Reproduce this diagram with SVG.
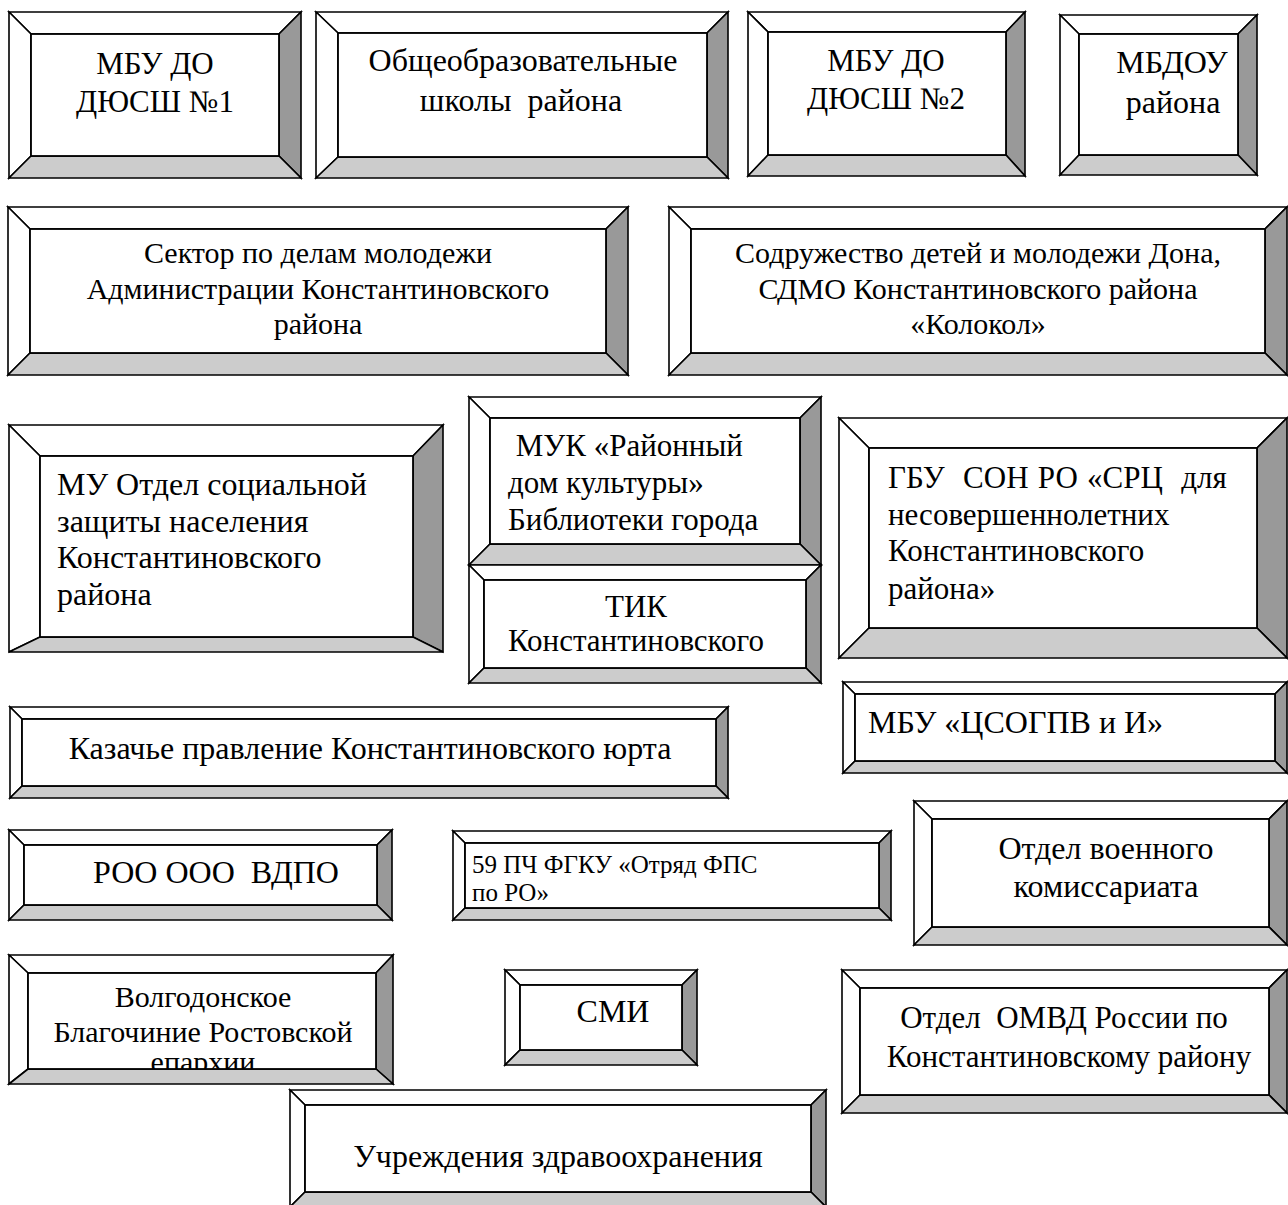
<svg xmlns="http://www.w3.org/2000/svg" width="1288" height="1205" viewBox="0 0 1288 1205">
<style>
.f{stroke:#000;stroke-width:1.6;stroke-linejoin:miter}
.w{fill:#fff}
.r{fill:#999}
.g{fill:#ccc}
.in{fill:#fff;stroke:#000;stroke-width:1.8}
text{font-family:"Liberation Serif","Times New Roman",serif;font-size:30px;fill:#000;white-space:pre}
.c{text-anchor:middle}
.t31{font-size:31px}
.t32{font-size:32px}
.s{font-size:25px}
</style>
<defs>
<clipPath id="clip16"><rect x="28" y="973" width="348" height="96"/></clipPath>
</defs>
<rect width="1288" height="1205" fill="#fff"/>
<g id="connectors"></g>

<g id="n1">
<polygon class="f w" points="9,12 301,12 279,34 31,34"/>
<polygon class="f w" points="9,12 31,34 31,156 9,178"/>
<polygon class="f r" points="301,12 301,178 279,156 279,34"/>
<polygon class="f g" points="9,178 31,156 279,156 301,178"/>
<rect class="in" x="31" y="34" width="248" height="122"/>
<text class="c t31" x="155" y="74">МБУ ДО</text>
<text class="c t31" x="155" y="112">ДЮСШ №1</text>
</g>

<g id="n2">
<polygon class="f w" points="316,12 728,12 707,33 338,33"/>
<polygon class="f w" points="316,12 338,33 338,157 316,178"/>
<polygon class="f r" points="728,12 728,178 707,157 707,33"/>
<polygon class="f g" points="316,178 338,157 707,157 728,178"/>
<rect class="in" x="338" y="33" width="369" height="124"/>
<text class="c t32" x="523" y="71">Общеобразовательные</text>
<text class="c t32" x="521" y="111">школы  района</text>
</g>

<g id="n3">
<polygon class="f w" points="748,12 1025,12 1006,32 768,32"/>
<polygon class="f w" points="748,12 768,32 768,155 748,176"/>
<polygon class="f r" points="1025,12 1025,176 1006,155 1006,32"/>
<polygon class="f g" points="748,176 768,155 1006,155 1025,176"/>
<rect class="in" x="768" y="32" width="238" height="123"/>
<text class="c t31" x="886" y="71">МБУ ДО</text>
<text class="c t31" x="886" y="109">ДЮСШ №2</text>
</g>

<g id="n4">
<polygon class="f w" points="1060,15 1257,15 1238,34 1079,34"/>
<polygon class="f w" points="1060,15 1079,34 1079,155 1060,175"/>
<polygon class="f r" points="1257,15 1257,175 1238,155 1238,34"/>
<polygon class="f g" points="1060,175 1079,155 1238,155 1257,175"/>
<rect class="in" x="1079" y="34" width="159" height="121"/>
<text class="c t32" x="1172" y="73">МБДОУ</text>
<text class="c t32" x="1173" y="113">района</text>
</g>

<g id="n5">
<polygon class="f w" points="8,207 628,207 606,229 30,229"/>
<polygon class="f w" points="8,207 30,229 30,353 8,375"/>
<polygon class="f r" points="628,207 628,375 606,353 606,229"/>
<polygon class="f g" points="8,375 30,353 606,353 628,375"/>
<rect class="in" x="30" y="229" width="576" height="124"/>
<text class="c" x="318" y="263">Сектор по делам молодежи</text>
<text class="c" x="318" y="299">Администрации Константиновского</text>
<text class="c" x="318" y="334">района</text>
</g>

<g id="n6">
<polygon class="f w" points="669,207 1287,207 1265,229 691,229"/>
<polygon class="f w" points="669,207 691,229 691,353 669,375"/>
<polygon class="f r" points="1287,207 1287,375 1265,353 1265,229"/>
<polygon class="f g" points="669,375 691,353 1265,353 1287,375"/>
<rect class="in" x="691" y="229" width="574" height="124"/>
<text class="c" x="978" y="263">Содружество детей и молодежи Дона,</text>
<text class="c" x="978" y="299">СДМО Константиновского района</text>
<text class="c" x="978" y="334">«Колокол»</text>
</g>

<g id="n7">
<polygon class="f w" points="9,425 443,425 413,456 40,456"/>
<polygon class="f w" points="9,425 40,456 40,637 9,652"/>
<polygon class="f r" points="443,425 443,652 413,637 413,456"/>
<polygon class="f g" points="9,652 40,637 413,637 443,652"/>
<rect class="in" x="40" y="456" width="373" height="181"/>
<text class="t32" x="57" y="495">МУ Отдел социальной</text>
<text class="t32" x="57" y="532">защиты населения</text>
<text class="t32" x="57" y="568">Константиновского</text>
<text class="t32" x="57" y="605">района</text>
</g>

<g id="n8">
<polygon class="f w" points="469,397 821,397 800,418 490,418"/>
<polygon class="f w" points="469,397 490,418 490,544 469,565"/>
<polygon class="f r" points="821,397 821,565 800,544 800,418"/>
<polygon class="f g" points="469,565 490,544 800,544 821,565"/>
<rect class="in" x="490" y="418" width="310" height="126"/>
<text class="t31" x="508" y="456"> МУК «Районный</text>
<text class="t31" x="508" y="493">дом культуры»</text>
<text class="t31" x="508" y="530">Библиотеки города</text>
</g>

<g id="n9">
<polygon class="f w" points="469,565 821,565 806,580 484,580"/>
<polygon class="f w" points="469,565 484,580 484,668 469,683"/>
<polygon class="f r" points="821,565 821,683 806,668 806,580"/>
<polygon class="f g" points="469,683 484,668 806,668 821,683"/>
<rect class="in" x="484" y="580" width="322" height="88"/>
<text class="c t31" x="636" y="617">ТИК</text>
<text class="c t31" x="636" y="651">Константиновского</text>
</g>

<g id="n10">
<polygon class="f w" points="839,418 1287,418 1257,448 869,448"/>
<polygon class="f w" points="839,418 869,448 869,628 839,658"/>
<polygon class="f r" points="1287,418 1287,658 1257,628 1257,448"/>
<polygon class="f g" points="839,658 869,628 1257,628 1287,658"/>
<rect class="in" x="869" y="448" width="388" height="180"/>
<text class="t31" x="888" y="488" style="word-spacing:1.5px">ГБУ  СОН РО «СРЦ  для</text>
<text class="t31" x="888" y="525">несовершеннолетних</text>
<text class="t31" x="888" y="561">Константиновского</text>
<text class="t31" x="888" y="599">района»</text>
</g>

<g id="n11">
<polygon class="f w" points="843,682 1287,682 1275,694 855,694"/>
<polygon class="f w" points="843,682 855,694 855,761 843,773"/>
<polygon class="f r" points="1287,682 1287,773 1275,761 1275,694"/>
<polygon class="f g" points="843,773 855,761 1275,761 1287,773"/>
<rect class="in" x="855" y="694" width="420" height="67"/>
<text class="t32" x="868" y="733">МБУ «ЦСОГПВ и И»</text>
</g>

<g id="n12">
<polygon class="f w" points="10,707 728,707 716,719 22,719"/>
<polygon class="f w" points="10,707 22,719 22,786 10,798"/>
<polygon class="f r" points="728,707 728,798 716,786 716,719"/>
<polygon class="f g" points="10,798 22,786 716,786 728,798"/>
<rect class="in" x="22" y="719" width="694" height="67"/>
<text class="c t32" x="370" y="759">Казачье правление Константиновского юрта</text>
</g>

<g id="n13">
<polygon class="f w" points="9,830 392,830 377,845 24,845"/>
<polygon class="f w" points="9,830 24,845 24,905 9,920"/>
<polygon class="f r" points="392,830 392,920 377,905 377,845"/>
<polygon class="f g" points="9,920 24,905 377,905 392,920"/>
<rect class="in" x="24" y="845" width="353" height="60"/>
<text class="c t32" x="216" y="883">РОО ООО  ВДПО</text>
</g>

<g id="n14">
<polygon class="f w" points="453,831 891,831 879,843 465,843"/>
<polygon class="f w" points="453,831 465,843 465,908 453,920"/>
<polygon class="f r" points="891,831 891,920 879,908 879,843"/>
<polygon class="f g" points="453,920 465,908 879,908 891,920"/>
<rect class="in" x="465" y="843" width="414" height="65"/>
<text class="s" x="472" y="873">59 ПЧ ФГКУ «Отряд ФПС</text>
<text class="s" x="472" y="901">по РО»</text>
</g>

<g id="n15">
<polygon class="f w" points="914,801 1287,801 1269,819 932,819"/>
<polygon class="f w" points="914,801 932,819 932,927 914,945"/>
<polygon class="f r" points="1287,801 1287,945 1269,927 1269,819"/>
<polygon class="f g" points="914,945 932,927 1269,927 1287,945"/>
<rect class="in" x="932" y="819" width="337" height="108"/>
<text class="c t32" x="1106" y="859">Отдел военного</text>
<text class="c t32" x="1106" y="897">комиссариата</text>
</g>

<g id="n16">
<polygon class="f w" points="9,955 393,955 376,973 28,973"/>
<polygon class="f w" points="9,955 28,973 28,1069 9,1084"/>
<polygon class="f r" points="393,955 393,1084 376,1069 376,973"/>
<polygon class="f g" points="9,1084 28,1069 376,1069 393,1084"/>
<rect class="in" x="28" y="973" width="348" height="96"/>
<g clip-path="url(#clip16)">
<text class="c" x="203" y="1007">Волгодонское</text>
<text class="c" x="203" y="1042">Благочиние Ростовской</text>
<text class="c" x="203" y="1072">епархии</text>
</g>
</g>

<g id="n17">
<polygon class="f w" points="505,970 697,970 682,985 520,985"/>
<polygon class="f w" points="505,970 520,985 520,1050 505,1065"/>
<polygon class="f r" points="697,970 697,1065 682,1050 682,985"/>
<polygon class="f g" points="505,1065 520,1050 682,1050 697,1065"/>
<rect class="in" x="520" y="985" width="162" height="65"/>
<text class="c t32" x="613" y="1022">СМИ</text>
</g>

<g id="n18">
<polygon class="f w" points="842,970 1287,970 1269,988 860,988"/>
<polygon class="f w" points="842,970 860,988 860,1095 842,1113"/>
<polygon class="f r" points="1287,970 1287,1113 1269,1095 1269,988"/>
<polygon class="f g" points="842,1113 860,1095 1269,1095 1287,1113"/>
<rect class="in" x="860" y="988" width="409" height="107"/>
<text class="c t31" x="1064" y="1028">Отдел  ОМВД России по</text>
<text class="c t31" x="1069" y="1067">Константиновскому району</text>
</g>

<g id="n19">
<polygon class="f w" points="290,1090 826,1090 811,1105 305,1105"/>
<polygon class="f w" points="290,1090 305,1105 305,1192 290,1207"/>
<polygon class="f r" points="826,1090 826,1207 811,1192 811,1105"/>
<polygon class="f g" points="290,1207 305,1192 811,1192 826,1207"/>
<rect class="in" x="305" y="1105" width="506" height="87"/>
<text class="c t32" x="558" y="1167">Учреждения здравоохранения</text>
</g>
</svg>
